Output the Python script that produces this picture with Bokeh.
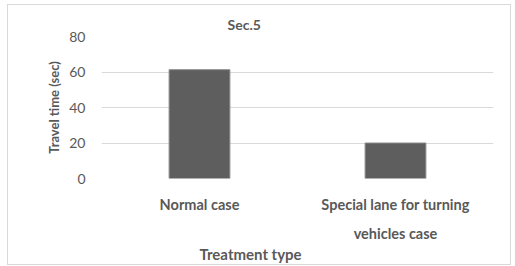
from bokeh.plotting import figure
from bokeh.models import Title, FixedTicker, CategoricalAxis, CustomJSTickFormatter
from bokeh.embed import file_html
from bokeh.resources import INLINE

categories = ["Normal case", "Special lane for turning vehicles case"]
label_line1 = ["Normal case", "Special lane for turning"]
label_line2 = ["", "vehicles case"]
travel_time = [61.3, 20.0]
y_ticks = [0, 20, 40, 60, 80]

FONT = "Lato"
TXT = "#595959"

p = figure(x_range=categories, y_range=(0, 80), width=502, height=259,
           output_backend="svg", toolbar_location=None,
           min_border_left=93, min_border_right=17, min_border_top=31, min_border_bottom=86)
p.margin = (5, 0, 0, 8)
p.styles = {"outline": "1px solid #d9d9d9"}
p.outline_line_color = None
p.background_fill_color = "white"
p.border_fill_color = "white"

p.vbar(x=categories, top=travel_time, width=0.31, fill_color="#5e5e5e", line_color="#8a8a8a", line_width=1)

p.xgrid.grid_line_color = None
p.ygrid.grid_line_color = "#d9d9d9"
p.ygrid.grid_line_width = 1
p.yaxis.ticker = FixedTicker(ticks=y_ticks)

CODE = "const i = cats.indexOf(tick); return i >= 0 ? lines[i] : tick;"
x2 = CategoricalAxis()
p.add_layout(x2, "below")
ax1 = p.xaxis[0]
ax1.formatter = CustomJSTickFormatter(args=dict(cats=categories, lines=label_line1), code=CODE)
x2.formatter = CustomJSTickFormatter(args=dict(cats=categories, lines=label_line2), code=CODE)

for ax in (ax1, x2, p.yaxis[0]):
    ax.axis_line_color = None
    ax.major_tick_line_color = None
    ax.minor_tick_line_color = None
    ax.major_tick_out = 0
    ax.major_tick_in = 0
    ax.major_label_text_font = FONT
    ax.major_label_text_color = TXT

p.yaxis.major_label_text_font_size = "14px"
p.yaxis.major_label_standoff = 16
p.yaxis.axis_label = "Travel time (sec)"
p.yaxis.axis_label_text_font = FONT
p.yaxis.axis_label_text_font_style = "bold"
p.yaxis.axis_label_text_font_size = "13px"
p.yaxis.axis_label_text_color = TXT
p.yaxis.axis_label_standoff = 4

ax1.major_label_text_font_size = "14.5px"
ax1.major_label_text_font_style = "bold"
ax1.major_label_standoff = 17

x2.major_label_text_font_size = "14.5px"
x2.major_label_text_font_style = "bold"
x2.major_label_standoff = 9

p.title = Title(text="Sec.5", align="left", offset=126, text_font=FONT, text_font_size="14px",
                text_font_style="bold", text_color=TXT, standoff=8)
p.add_layout(Title(text="Treatment type", align="left", offset=98, text_font=FONT,
                   text_font_size="15px", text_font_style="bold", text_color=TXT, standoff=0,
                   vertical_align="top"), "below")

open("out.html", "w").write(file_html(p, INLINE))
